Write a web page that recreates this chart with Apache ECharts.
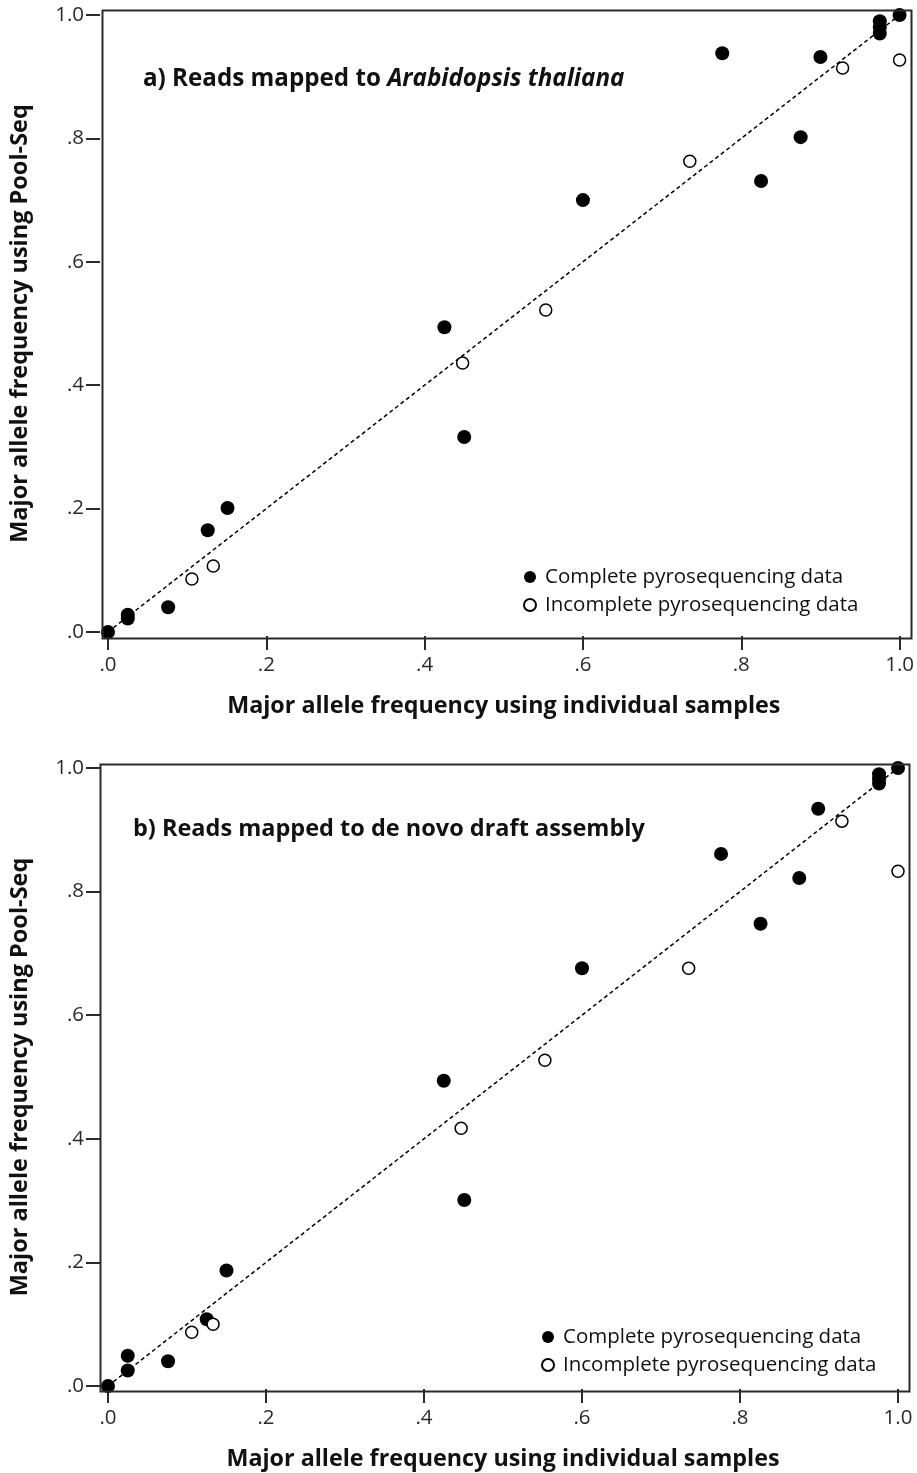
<!DOCTYPE html>
<html>
<head>
<meta charset="utf-8">
<script src="https://cdn.jsdelivr.net/npm/echarts@6/dist/echarts.min.js"></script>
<style>
  html, body { margin: 0; padding: 0; background: #fff; }
  #chart { width: 917px; height: 1473px; }
</style>
</head>
<body>
<div id="chart"></div>
<script>
// axis ticks (both axes, both panels)
const tickMin = 0;
const tickMax = 1;
const tickStep = 0.2;

// panel a) reads mapped to Arabidopsis thaliana  [individual, pool-seq]
const completeA = [
  [0.0, 0.0], [0.025, 0.028], [0.025, 0.022], [0.076, 0.040], [0.126, 0.165],
  [0.151, 0.201], [0.425, 0.494], [0.450, 0.316], [0.600, 0.700], [0.776, 0.938],
  [0.825, 0.731], [0.875, 0.802], [0.900, 0.932], [0.975, 0.990], [0.975, 0.980],
  [0.975, 0.970], [1.0, 1.0]
];
const incompleteA = [
  [0.106, 0.086], [0.133, 0.107], [0.448, 0.436], [0.553, 0.522],
  [0.735, 0.763], [0.928, 0.914], [1.0, 0.927]
];

// panel b) reads mapped to de novo draft assembly
const completeB = [
  [0.0, 0.0], [0.025, 0.049], [0.025, 0.025], [0.076, 0.040], [0.125, 0.108],
  [0.150, 0.187], [0.425, 0.494], [0.451, 0.301], [0.600, 0.676], [0.776, 0.861],
  [0.826, 0.748], [0.875, 0.822], [0.899, 0.934], [0.976, 0.990], [0.976, 0.982],
  [0.976, 0.975], [1.0, 1.0]
];
const incompleteB = [
  [0.106, 0.087], [0.133, 0.100], [0.447, 0.417], [0.553, 0.527],
  [0.735, 0.676], [0.929, 0.914], [1.0, 0.833]
];

// reference line y = x
const refLine = [[0, 0], [1, 1]];

const seriesNames = ['Complete pyrosequencing data', 'Incomplete pyrosequencing data'];

const FONT = 'Open Sans';
const INK = '#2a2a2a';
const fmt = v => (Math.abs(v - 1) < 1e-9 ? '1.0' : v.toFixed(1).replace(/^0/, ''));

function xAxisFor(gridIndex, offset) {
  return {
    type: 'value', gridIndex, min: tickMin, max: tickMax, interval: tickStep, offset,
    name: 'Major allele frequency using individual samples',
    nameLocation: 'middle', nameGap: 59,
    nameTextStyle: { fontFamily: FONT, fontWeight: 'bold', fontSize: 23.3, color: '#111' },
    axisLine: { show: false, onZero: false },
    axisTick: { show: true, inside: false, length: 14, lineStyle: { color: INK, width: 2 } },
    axisLabel: { formatter: fmt, margin: 19, fontFamily: FONT, fontSize: 20.5, color: INK },
    splitLine: { show: false }
  };
}
function yAxisFor(gridIndex, offset) {
  return {
    type: 'value', gridIndex, min: tickMin, max: tickMax, interval: tickStep, offset,
    name: 'Major allele frequency using Pool-Seq',
    nameLocation: 'middle', nameGap: 68,
    nameTextStyle: { fontFamily: FONT, fontWeight: 'bold', fontSize: 23.5, color: '#111' },
    axisLine: { show: false, onZero: false },
    axisTick: { show: true, inside: false, length: 14, lineStyle: { color: INK, width: 2 } },
    axisLabel: { formatter: fmt, margin: 16, fontFamily: FONT, fontSize: 20.5, color: INK },
    splitLine: { show: false }
  };
}
function seriesFor(idx, complete, incomplete) {
  return [
    {
      type: 'line', xAxisIndex: idx, yAxisIndex: idx, data: refLine, symbol: 'none',
      silent: true, z: 1,
      lineStyle: { color: '#000', width: 1.5, type: [4, 3] }
    },
    {
      name: seriesNames[0], type: 'scatter', xAxisIndex: idx, yAxisIndex: idx,
      data: complete, symbol: 'circle', symbolSize: 14, z: 3,
      itemStyle: { color: '#000', borderColor: '#000', borderWidth: 0, opacity: 1 }
    },
    {
      name: seriesNames[1], type: 'scatter', xAxisIndex: idx, yAxisIndex: idx,
      data: incomplete, symbol: 'circle', symbolSize: 12, z: 3,
      itemStyle: { color: '#fff', borderColor: '#000', borderWidth: 1.5, opacity: 1 }
    }
  ];
}
function legendFor(left, top) {
  return {
    data: seriesNames, orient: 'vertical', left, top, padding: 0,
    icon: 'circle', itemWidth: 12, itemHeight: 12, itemGap: 6,
    selectedMode: false,
    textStyle: { fontFamily: FONT, fontSize: 20.5, color: '#111', lineHeight: 22, padding: [0, 0, 0, 4] }
  };
}
// plot frame around each panel (slightly wider than the 0..1 data area)
function frame(x, y, w, h) {
  return {
    type: 'rect', left: x, top: y, z: 10, silent: true,
    shape: { width: w, height: h },
    style: { fill: 'none', stroke: INK, lineWidth: 2 }
  };
}

const chart = echarts.init(document.getElementById('chart'), null, { renderer: 'canvas' });
chart.setOption({
  backgroundColor: '#fff',
  animation: false,
  title: [
    {
      left: 143, top: 67, padding: 0,
      text: '{b|a) Reads mapped to }{i|Arabidopsis thaliana}',
      textStyle: { rich: {
        b: { fontFamily: FONT, fontWeight: 'bold', fontSize: 24.2, color: '#111' },
        i: { fontFamily: FONT, fontWeight: 'bold', fontStyle: 'italic', fontSize: 24.2, color: '#111' }
      } }
    },
    {
      left: 133, top: 817, padding: 0,
      text: 'b) Reads mapped to de novo draft assembly',
      textStyle: { fontFamily: FONT, fontWeight: 'bold', fontSize: 23.5, color: '#111' }
    }
  ],
  legend: [legendFor(523, 566), legendFor(541, 1326)],
  grid: [
    { left: 108, top: 15, width: 793, height: 617 },
    { left: 106, top: 768, width: 792, height: 618 }
  ],
  xAxis: [xAxisFor(0, 4), xAxisFor(1, 3)],
  yAxis: [yAxisFor(0, 8), yAxisFor(1, 8)],
  graphic: [frame(100, 8, 809, 628), frame(98, 762, 809, 627)],
  series: [...seriesFor(0, completeA, incompleteA), ...seriesFor(1, completeB, incompleteB)]
});
</script>
</body>
</html>
